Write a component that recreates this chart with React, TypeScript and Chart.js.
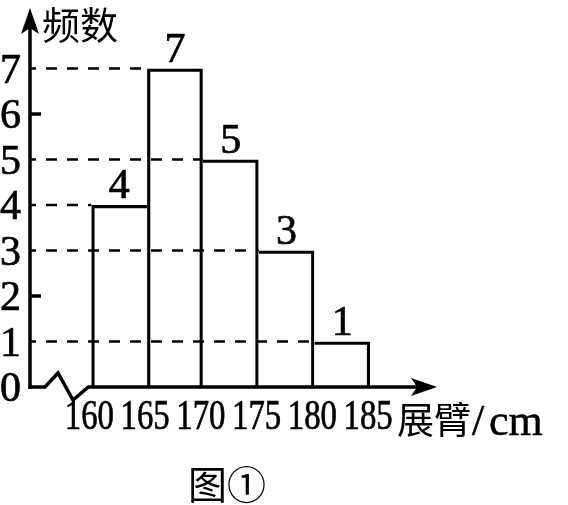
import { useEffect, useRef } from 'react'
import Chart from 'chart.js/auto'

// histogram data
const binStarts = [160, 165, 170, 175, 180]
const counts = [4, 7, 5, 3, 1]
const xTicks = [160, 165, 170, 175, 180, 185]
const yTicks = [0, 1, 2, 3, 4, 5, 6, 7]
const yTitle = '频数'
const xTitle = '展臂'
const xUnitSlash = '/'
const xUnit = 'cm'
const caption = '图①'

const binWidth = xTicks[1] - xTicks[0]

const NUM_FONT = '42px "Liberation Serif", "Times New Roman", serif'
const UNIT_FONT = '44px "Liberation Serif", "Times New Roman", serif'
const CJK_FONT = '38px "Noto Sans CJK SC", sans-serif'
const LINE = 3.5
const BAR_LINE = 3.2

function drawText(
  ctx: CanvasRenderingContext2D,
  s: string,
  x: number,
  y: number,
  font: string,
  align: CanvasTextAlign = 'center',
  baseline: CanvasTextBaseline = 'alphabetic',
  sx = 1,
  weight = 0
) {
  ctx.save()
  ctx.translate(x, y)
  ctx.scale(sx, 1)
  ctx.font = font
  ctx.textAlign = align
  ctx.textBaseline = baseline
  ctx.fillText(s, 0, 0)
  if (weight > 0) {
    // slight stroke so the serif digits look as heavy as the printed ones
    ctx.lineWidth = weight
    ctx.strokeText(s, 0, 0)
  }
  ctx.restore()
}

function arrowHead(ctx: CanvasRenderingContext2D, tx: number, ty: number, dir: 'up' | 'right') {
  const len = 26
  const half = 9
  const notch = 20
  ctx.beginPath()
  if (dir === 'right') {
    ctx.moveTo(tx, ty)
    ctx.lineTo(tx - len, ty - half)
    ctx.lineTo(tx - notch, ty)
    ctx.lineTo(tx - len, ty + half)
  } else {
    ctx.moveTo(tx, ty)
    ctx.lineTo(tx + half, ty + len)
    ctx.lineTo(tx, ty + notch)
    ctx.lineTo(tx - half, ty + len)
  }
  ctx.closePath()
  ctx.fill()
}

const histogramPlugin = {
  id: 'histogramDecor',
  afterDatasetsDraw(chart: Chart) {
    const { ctx, chartArea } = chart
    const x = chart.scales.x
    const y = chart.scales.y
    const axisX = chartArea.left
    const baseY = y.getPixelForValue(0)

    ctx.save()
    ctx.strokeStyle = '#000'
    ctx.fillStyle = '#000'

    // dashed guides from the axis to each bar's left edge
    ctx.lineWidth = 2.7
    ctx.setLineDash([11, 10])
    ctx.lineDashOffset = 5
    counts.forEach((c, i) => {
      const py = y.getPixelForValue(c)
      ctx.beginPath()
      ctx.moveTo(axisX, py)
      ctx.lineTo(x.getPixelForValue(binStarts[i]), py)
      ctx.stroke()
    })
    ctx.setLineDash([])
    ctx.lineDashOffset = 0

    // short tick marks for levels without a guide
    ctx.lineWidth = LINE
    yTicks
      .filter((v) => v > 0 && !counts.includes(v))
      .forEach((v) => {
        const py = y.getPixelForValue(v)
        ctx.beginPath()
        ctx.moveTo(axisX, py)
        ctx.lineTo(axisX + 11, py)
        ctx.stroke()
      })

    // y axis
    ctx.beginPath()
    ctx.moveTo(axisX, baseY + LINE / 2)
    ctx.lineTo(axisX, chartArea.top + 12)
    ctx.stroke()
    arrowHead(ctx, axisX, chartArea.top, 'up')

    // x axis with break mark
    const firstEdge = x.getPixelForValue(xTicks[0])
    ctx.lineJoin = 'miter'
    ctx.beginPath()
    ctx.moveTo(axisX - LINE / 2, baseY)
    ctx.lineTo(axisX + 15, baseY)
    ctx.lineTo(axisX + 28, baseY - 14)
    ctx.lineTo(axisX + 43, baseY + 13)
    ctx.lineTo(firstEdge - 3, baseY)
    ctx.lineTo(chartArea.right - 12, baseY)
    ctx.stroke()
    arrowHead(ctx, chartArea.right, baseY, 'right')

    // y tick labels
    yTicks.forEach((v) => {
      drawText(ctx, String(v), axisX - 9, y.getPixelForValue(v) + 14, NUM_FONT, 'right', 'alphabetic', 1, 0.7)
    })

    // x tick labels
    xTicks.forEach((v) => {
      drawText(ctx, String(v), x.getPixelForValue(v) - 2, baseY + 42, NUM_FONT, 'center', 'alphabetic', 0.78, 0.7)
    })

    // bar value labels
    const bars = chart.getDatasetMeta(0).data
    bars.forEach((bar, i) => {
      drawText(ctx, String(counts[i]), bar.x, bar.y - 7, NUM_FONT, 'center', 'alphabetic', 1, 0.7)
    })

    // titles
    drawText(ctx, yTitle, axisX + 12, chartArea.top + 17, CJK_FONT, 'left', 'middle')
    const tx = chartArea.right - 40
    drawText(ctx, xTitle, tx, baseY + 33, '37px "Noto Sans CJK SC", sans-serif', 'left', 'middle')
    drawText(ctx, xUnitSlash, tx + 75, baseY + 48, UNIT_FONT, 'left', 'alphabetic', 1, 0.5)
    drawText(ctx, xUnit, tx + 92, baseY + 48, UNIT_FONT, 'left', 'alphabetic', 1, 0.5)

    drawText(ctx, caption, 227, baseY + 97, '39px "Noto Sans CJK SC", sans-serif', 'center', 'middle')

    ctx.restore()
  },
}

export default function App() {
  const canvasRef = useRef<HTMLCanvasElement>(null)
  const chartRef = useRef<Chart | null>(null)

  useEffect(() => {
    if (!canvasRef.current) return
    if (chartRef.current) chartRef.current.destroy()

    // shared edges are drawn once, by the taller neighbour
    const borders = counts.map((c, i) => ({
      top: BAR_LINE,
      bottom: 0,
      left: i === 0 || c >= counts[i - 1] ? BAR_LINE : 0,
      right: i === counts.length - 1 || c > counts[i + 1] ? BAR_LINE : 0,
    }))

    chartRef.current = new Chart(canvasRef.current, {
      type: 'bar',
      data: {
        datasets: [
          {
            label: yTitle,
            data: binStarts.map((s, i) => ({ x: s + binWidth / 2, y: counts[i] })),
            backgroundColor: 'rgba(0,0,0,0)',
            borderColor: '#000',
            borderWidth: borders as any,
            borderSkipped: false,
            inflateAmount: 0,
            barPercentage: 1,
            categoryPercentage: 1,
          },
        ],
      },
      options: {
        responsive: true,
        maintainAspectRatio: false,
        animation: false,
        events: [],
        layout: { padding: { left: 30, right: 131, top: 8, bottom: 118 } },
        plugins: {
          legend: { display: false },
          tooltip: { enabled: false },
        },
        scales: {
          x: { type: 'linear', min: 154.5, max: 191, offset: false, display: false },
          y: { type: 'linear', min: 0, max: 8.33, display: false },
        },
      },
      plugins: [histogramPlugin],
    })

    return () => { chartRef.current?.destroy() }
  }, [])

  return (
    <div style={{ position: 'absolute', left: 0, top: 0, width: 568, height: 505, background: '#fff' }}>
      <canvas ref={canvasRef} />
    </div>
  )
}
